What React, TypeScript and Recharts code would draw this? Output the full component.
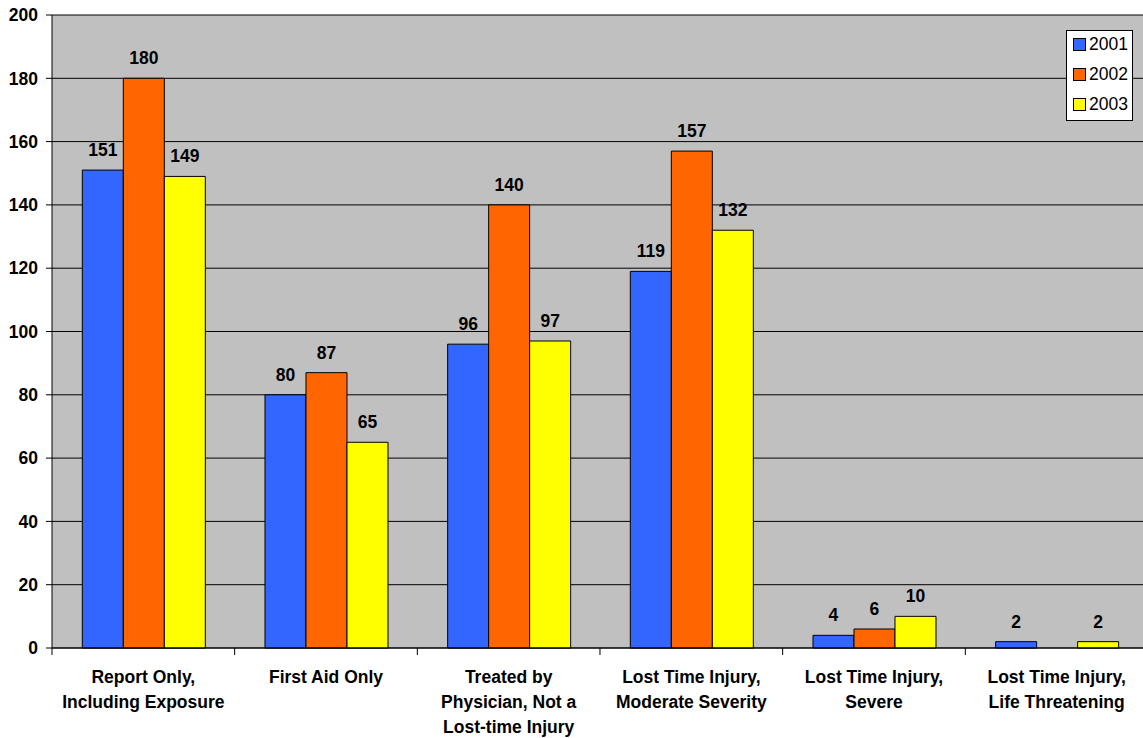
import { Bar, BarChart, CartesianGrid, LabelList, XAxis, YAxis } from "recharts";

const categories = [
  "Report Only,\nIncluding Exposure",
  "First Aid Only",
  "Treated by\nPhysician, Not a\nLost-time Injury",
  "Lost Time Injury,\nModerate Severity",
  "Lost Time Injury,\nSevere",
  "Lost Time Injury,\nLife Threatening",
];
const values2001 = [151, 80, 96, 119, 4, 2];
const values2002 = [180, 87, 140, 157, 6, 0];
const values2003 = [149, 65, 97, 132, 10, 2];
const yTicks = [0, 20, 40, 60, 80, 100, 120, 140, 160, 180, 200];

const series = [
  { key: "2001", color: "#3366FF" },
  { key: "2002", color: "#FF6600" },
  { key: "2003", color: "#FFFF00" },
];

const FONT = "Arial, 'Liberation Sans', sans-serif";
const HALF_BAND = 91.35;

const data = categories.map((name, i) => ({
  name,
  "2001": values2001[i],
  "2002": values2002[i],
  "2003": values2003[i],
}));

function CategoryTick(props: any) {
  const { x, y, payload } = props;
  const lines = String(payload.value).split("\n");
  return (
    <g>
      <line x1={x - HALF_BAND} x2={x - HALF_BAND} y1={y - 7} y2={y} stroke="#000" />
      <text
        x={x}
        y={y}
        textAnchor="middle"
        fontFamily={FONT}
        fontWeight="bold"
        fontSize={17.5}
        fill="#000"
      >
        {lines.map((l, i) => (
          <tspan key={i} x={x} dy={i === 0 ? 28 : 25}>
            {l}
          </tspan>
        ))}
      </text>
    </g>
  );
}

// legend box drawn over the chart, top right
function LegendBox() {
  return (
    <div
      style={{
        position: "absolute",
        left: 1066,
        top: 30,
        width: 67,
        height: 91,
        background: "#fff",
        border: "1px solid #000",
        boxSizing: "border-box",
      }}
    >
      {series.map((s, i) => (
        <div
          key={s.key}
          style={{
            display: "flex",
            alignItems: "center",
            height: 30,
            marginTop: i === 0 ? -2 : 0,
            paddingLeft: 6,
          }}
        >
          <div
            style={{
              width: 11,
              height: 11,
              background: s.color,
              border: "1px solid #000",
              marginRight: 3,
            }}
          />
          <span style={{ fontFamily: FONT, fontSize: 17.5, color: "#000" }}>{s.key}</span>
        </div>
      ))}
    </div>
  );
}

const valueLabel = (v: any) => (v === 0 ? "" : v);

export default function App() {
  return (
    <div
      style={{
        position: "fixed",
        left: 0,
        top: 0,
        width: 1143,
        height: 738,
        overflow: "hidden",
        background: "#fff",
      }}
    >
      <BarChart
        width={1148}
        height={738}
        data={data}
        margin={{ top: 15, right: 0, left: 0, bottom: 0 }}
        barCategoryGap="16.6%"
        barGap={0}
      >
        <CartesianGrid vertical={false} stroke="#000" fill="#C0C0C0" fillOpacity={1} />
        <XAxis
          dataKey="name"
          height={90}
          interval={0}
          tickLine={false}
          tickSize={7}
          tickMargin={0}
          axisLine={{ stroke: "#000" }}
          tick={<CategoryTick />}
        />
        <YAxis
          width={52}
          domain={[0, 200]}
          ticks={yTicks}
          interval={0}
          axisLine={{ stroke: "#000" }}
          tickLine={{ stroke: "#000" }}
          tickSize={6}
          tickMargin={8}
          tick={{ fontFamily: FONT, fontSize: 17.5, fontWeight: "bold", fill: "#000" }}
        />
        {series.map((s) => (
          <Bar
            key={s.key}
            dataKey={s.key}
            fill={s.color}
            stroke="#000"
            strokeWidth={1}
            isAnimationActive={false}
          >
            <LabelList
              dataKey={s.key}
              position="top"
              offset={14}
              formatter={valueLabel}
              style={{ fontFamily: FONT, fontSize: 17.5, fontWeight: "bold", fill: "#000" }}
            />
          </Bar>
        ))}
      </BarChart>
      <LegendBox />
    </div>
  );
}
